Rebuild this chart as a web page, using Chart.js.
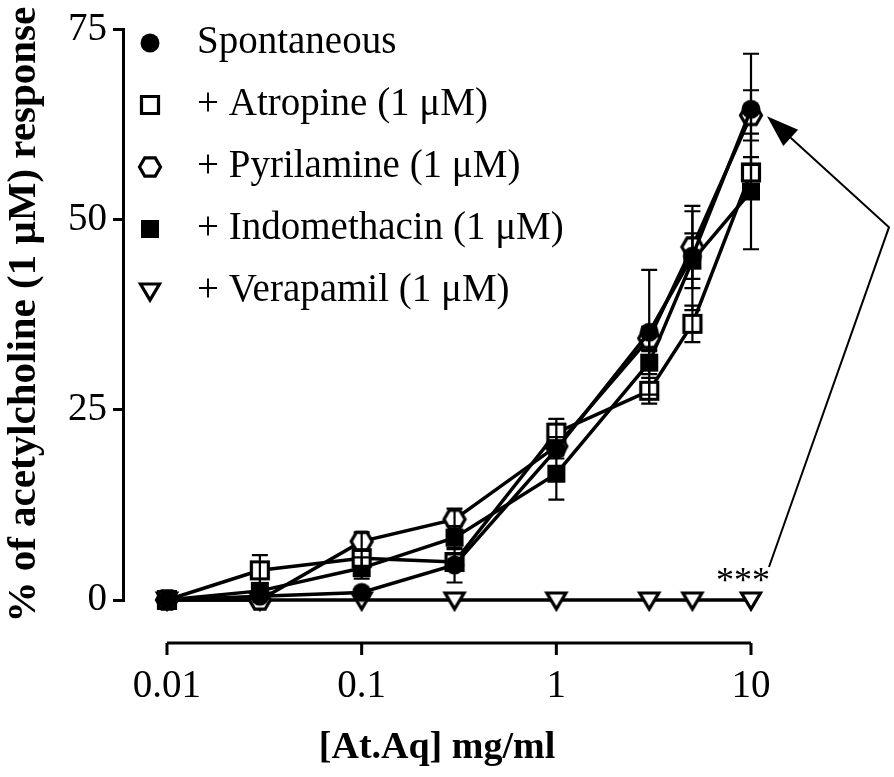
<!DOCTYPE html>
<html>
<head>
<meta charset="utf-8">
<script src="https://cdn.jsdelivr.net/npm/chart.js@4.4.0/dist/chart.umd.min.js"></script>
<style>
  body { margin: 0; background: #fff; }
</style>
</head>
<body>
<canvas id="myChart" width="894" height="777"></canvas>
<script>
// Data
const doses = [0.01, 0.03, 0.1, 0.3, 1, 3, 5, 10];
const labels = ["Spontaneous", "+ Atropine (1 \u03bcM)", "+ Pyrilamine (1 \u03bcM)", "+ Indomethacin (1 \u03bcM)", "+ Verapamil (1 \u03bcM)"];
const spontaneous = [0, 0.5, 1.0, 4.6, 19.8, 35.2, 45.2, 64.5];
const spontaneousErr = [0, 0.4, 0.4, 2.3, 1.2, 8.2, 3.0, 7.3];
const atropine = [0, 3.9, 5.5, 5.0, 22.0, 27.5, 36.3, 56.2];
const atropineErr = [0, 2.0, 1.0, 1.0, 1.8, 1.7, 2.4, 2.0];
const pyrilamine = [0, 0, 7.7, 10.6, 20.2, 34.4, 46.4, 63.7];
const pyrilamineErr = [0, 0, 1.2, 1.4, 1.2, 1.5, 5.4, 3.3];
const indomethacin = [0, 1.2, 4.2, 8.2, 16.6, 31.2, 44.6, 53.7];
const indomethacinErr = [0, 0.5, 1.4, 1.5, 3.4, 1.5, 6.5, 7.6];
const verapamil = [0, 0, 0, 0, 0, 0, 0, 0];
const verapamilErr = [0, 0, 0, 0, 0, 0, 0, 0];
const xTicks = [0.01, 0.1, 1, 10];
const yTicks = [0, 25, 50, 75];

const FONT = "'Liberation Serif', 'Times New Roman', serif";

// markers
function makeMarker(shape) {
    const c = document.createElement("canvas");
    c.width = 28;
    c.height = 28;
    const ctx = c.getContext("2d");
    const m = 14;
    ctx.lineWidth = 3.2;
    ctx.strokeStyle = "#000";
    ctx.fillStyle = "#000";
    ctx.beginPath();
    if (shape === "circle") {
        ctx.arc(m, m, 9.5, 0, Math.PI * 2);
        ctx.fill();
    } else if (shape === "openSquare") {
        ctx.rect(m - 8.5, m - 8.5, 17, 17);
        ctx.fillStyle = "#fff";
        ctx.fill();
        ctx.stroke();
    } else if (shape === "hexagon") {
        for (let i = 0; i < 6; i++) {
            const a = i * Math.PI / 3;
            ctx.lineTo(m + 10.5 * Math.cos(a), m + 10.5 * Math.sin(a));
        }
        ctx.closePath();
        ctx.fillStyle = "#fff";
        ctx.fill();
        ctx.stroke();
    } else if (shape === "square") {
        ctx.rect(m - 9, m - 9, 18, 18);
        ctx.fill();
    } else if (shape === "triangle") {
        ctx.moveTo(m - 9.5, m - 7);
        ctx.lineTo(m + 9.5, m - 7);
        ctx.lineTo(m, m + 9);
        ctx.closePath();
        ctx.fillStyle = "#fff";
        ctx.fill();
        ctx.stroke();
    }
    return c;
}

const markers = ["circle", "openSquare", "hexagon", "square", "triangle"].map(makeMarker);
const values = [spontaneous, atropine, pyrilamine, indomethacin, verapamil];
const errors = [spontaneousErr, atropineErr, pyrilamineErr, indomethacinErr, verapamilErr];

const datasets = values.map((vals, i) => ({
    label: labels[i],
    data: doses.map((d, j) => ({ x: d, y: vals[j] })),
    errors: errors[i],
    borderColor: "#000",
    borderWidth: 3.5,
    pointStyle: markers[i],
    pointRadius: 10,
    clip: false,
    tension: 0
}));

// error bars on top of the lines
const errorBars = {
    id: "errorBars",
    afterDatasetsDraw(chart) {
        const { ctx, scales: { x, y } } = chart;
        ctx.save();
        ctx.strokeStyle = "#000";
        ctx.lineWidth = 2.2;
        chart.data.datasets.forEach(ds => {
            ds.data.forEach((p, i) => {
                const e = ds.errors[i];
                if (!e) return;
                const px = x.getPixelForValue(p.x);
                const top = y.getPixelForValue(p.y + e);
                const bot = y.getPixelForValue(p.y - e);
                ctx.beginPath();
                ctx.moveTo(px, top); ctx.lineTo(px, bot);
                ctx.moveTo(px - 8, top); ctx.lineTo(px + 8, top);
                ctx.moveTo(px - 8, bot); ctx.lineTo(px + 8, bot);
                ctx.stroke();
            });
        });
        ctx.restore();
    }
};

// detached x axis line + ticks, legend, arrow annotation
const extras = {
    id: "extras",
    afterDraw(chart) {
        const { ctx, scales: { x, y } } = chart;
        ctx.save();
        // x axis
        const axisY = y.getPixelForValue(0) + 43;
        ctx.strokeStyle = "#000";
        ctx.lineWidth = 3;
        ctx.beginPath();
        ctx.moveTo(x.getPixelForValue(xTicks[0]), axisY);
        ctx.lineTo(x.getPixelForValue(xTicks[xTicks.length - 1]), axisY);
        xTicks.forEach(t => {
            const px = x.getPixelForValue(t);
            ctx.moveTo(px, axisY);
            ctx.lineTo(px, axisY + 12);
        });
        ctx.stroke();

        // legend
        ctx.fillStyle = "#000";
        ctx.font = "39px " + FONT;
        ctx.textBaseline = "middle";
        ctx.textAlign = "left";
        chart.data.datasets.forEach((ds, i) => {
            const rowY = 43 + i * 62;
            ctx.drawImage(ds.pointStyle, 150 - 14, rowY - 14);
            ctx.fillText(ds.label, 197, rowY);
        });

        // *** and arrow
        const x10 = x.getPixelForValue(10);
        const y0 = y.getPixelForValue(0);
        ctx.font = "36px " + FONT;
        ctx.textAlign = "center";
        ctx.textBaseline = "alphabetic";
        ctx.fillText("***", x10 - 8, y0 - 8);

        const tipX = x10 + 16, tipY = y.getPixelForValue(spontaneous[7]) + 7;
        const cornerX = x10 + 138, cornerY = y.getPixelForValue(49);
        ctx.lineWidth = 2;
        ctx.beginPath();
        ctx.moveTo(x10 + 18, y0 - 33);
        ctx.lineTo(cornerX, cornerY);
        const dx = tipX - cornerX, dy = tipY - cornerY;
        const len = Math.hypot(dx, dy);
        const ux = dx / len, uy = dy / len;
        const bx = tipX - ux * 32, by = tipY - uy * 32;
        ctx.lineTo(bx, by);
        ctx.stroke();
        ctx.beginPath();
        ctx.moveTo(tipX, tipY);
        ctx.lineTo(bx - uy * 11, by + ux * 11);
        ctx.lineTo(bx + uy * 11, by - ux * 11);
        ctx.closePath();
        ctx.fill();
        ctx.restore();
    }
};

new Chart(document.getElementById("myChart"), {
    type: "line",
    data: { datasets: datasets },
    options: {
        responsive: false,
        animation: false,
        devicePixelRatio: 1,
        layout: { padding: { top: 15, right: 143, left: 0, bottom: 0 } },
        plugins: {
            legend: { display: false },
            tooltip: { enabled: false }
        },
        scales: {
            x: {
                type: "logarithmic",
                min: 0.005943,
                max: 10,
                afterBuildTicks: scale => { scale.ticks = xTicks.map(v => ({ value: v })); },
                afterFit: scale => { scale.height = 177; },
                grid: { display: false, drawTicks: false },
                border: { display: false },
                ticks: {
                    color: "#000",
                    font: { family: FONT, size: 39 },
                    padding: 63,
                    maxRotation: 0,
                    autoSkip: false,
                    callback: v => String(v)
                },
                title: {
                    display: true,
                    text: "[At.Aq] mg/ml",
                    color: "#000",
                    font: { family: FONT, size: 38, weight: "bold" },
                    padding: { top: 0, bottom: 6 }
                }
            },
            y: {
                min: 0,
                max: 75,
                afterBuildTicks: scale => { scale.ticks = yTicks.map(v => ({ value: v })); },
                afterFit: scale => { scale.width = 123; },
                grid: { drawOnChartArea: false, color: "#000", lineWidth: 3, tickLength: 10 },
                border: { display: true, color: "#000", width: 3 },
                ticks: {
                    color: "#000",
                    font: { family: FONT, size: 39 },
                    padding: 6
                },
                title: {
                    display: true,
                    text: "% of acetylcholine (1 \u03bcM) response",
                    color: "#000",
                    font: { family: FONT, size: 41, weight: "bold" },
                    padding: 0
                }
            }
        }
    },
    plugins: [errorBars, extras]
});
</script>
</body>
</html>
